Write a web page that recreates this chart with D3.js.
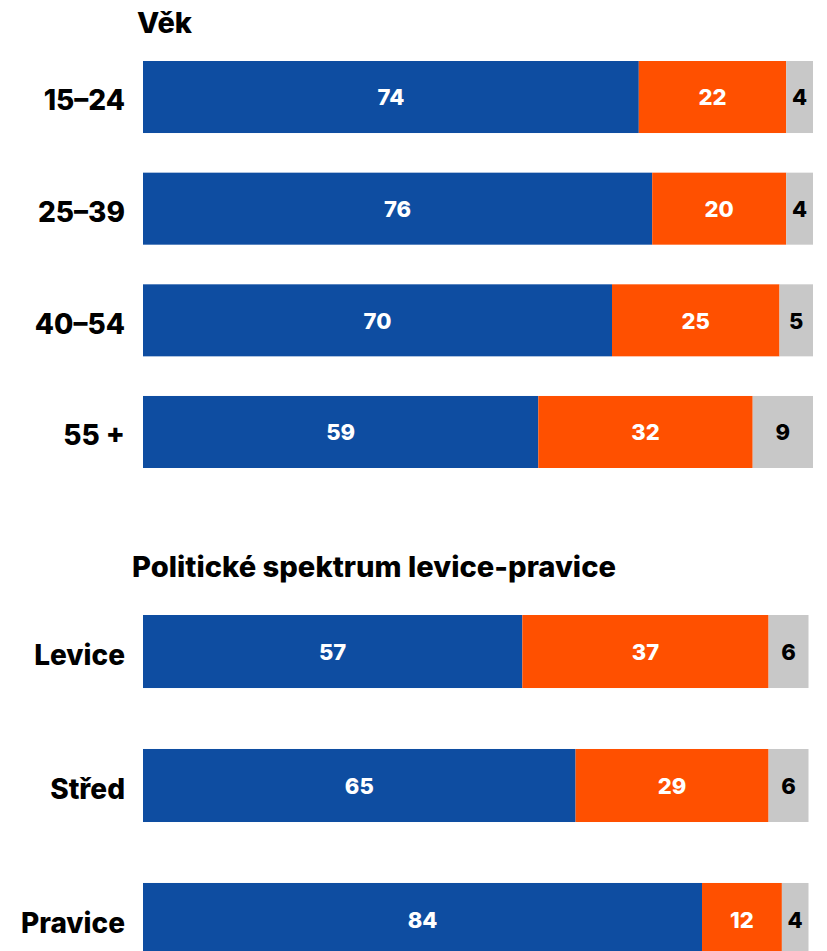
<!DOCTYPE html>
<html><head><meta charset="utf-8">
<script src="https://cdn.jsdelivr.net/npm/d3@7"></script>
<style>
html,body{margin:0;padding:0;background:#fff;}
svg{display:block;}
text{font-family:Inter, "Open Sans", sans-serif;}
</style></head>
<body>
<svg id="chart" width="827" height="951"></svg>
<script>
const ageTitle = "Věk";
const ageCategories = ["15–24", "25–39", "40–54", "55 +"];
const ageBlue = [74, 76, 70, 59];
const ageOrange = [22, 20, 25, 32];
const ageGray = [4, 4, 5, 9];

const polTitle = "Politické spektrum levice-pravice";
const polCategories = ["Levice", "Střed", "Pravice"];
const polBlue = [57, 65, 84];
const polOrange = [37, 29, 12];
const polGray = [6, 6, 4];

const colors = ["#0e4da1", "#ff5000", "#c8c8c8"];
const labelColors = ["#fff", "#fff", "#000"];
const FONT = "Inter, 'Open Sans', sans-serif";

const svg = d3.select("#chart");

function drawGroup(cfg) {
  const g = svg.append("g");
  const x = d3.scaleLinear().domain([0, 100]).range([cfg.x0, cfg.x1]);
  const y = d3.scaleBand().domain(cfg.categories).range([cfg.y0, cfg.y1])
    .paddingInner(cfg.pad).paddingOuter(0);
  const rows = cfg.categories.map((c, i) => ({cat: c, vals: [cfg.blue[i], cfg.orange[i], cfg.gray[i]]}));
  const stack = d3.stack().keys([0, 1, 2]).value((d, k) => d.vals[k]);
  const series = stack(rows);

  g.append("text").attr("x", cfg.titleX).attr("y", cfg.titleY)
    .attr("font-size", cfg.titleSize).attr("font-weight", 800).attr("fill", "#000")
    .attr("textLength", cfg.titleLen).attr("lengthAdjust", "spacingAndGlyphs")
    .text(cfg.title);

  series.forEach((s, k) => {
    const sg = g.append("g");
    sg.selectAll("rect").data(s).join("rect")
      .attr("x", d => x(d[0]))
      .attr("y", d => y(d.data.cat))
      .attr("width", d => x(d[1]) - x(d[0]))
      .attr("height", y.bandwidth())
      .attr("fill", colors[k]);
    sg.selectAll("text").data(s).join("text")
      .attr("x", d => (x(d[0]) + x(d[1])) / 2)
      .attr("y", d => y(d.data.cat) + y.bandwidth() / 2)
      .attr("dy", "0.38em")
      .attr("text-anchor", "middle")
      .attr("font-size", 22).attr("font-weight", 800)
      .attr("fill", labelColors[k])
      .text(d => d.data.vals[k]);
  });

  const axis = d3.axisLeft(y).tickSize(0).tickPadding(0);
  const ag = g.append("g").attr("transform", `translate(${cfg.labelX},0)`).call(axis);
  ag.select(".domain").remove();
  ag.selectAll("text").attr("font-size", 28).attr("font-weight", 800)
    .attr("fill", "#000").attr("font-family", FONT)
    .attr("dy", "0.48em").attr("x", 0);
}

drawGroup({title: ageTitle, titleX: 137, titleY: 33, titleSize: 28, titleLen: 55,
  categories: ageCategories, blue: ageBlue, orange: ageOrange, gray: ageGray,
  x0: 143, x1: 813, y0: 61, y1: 468, pad: 0.355, labelX: 125});

drawGroup({title: polTitle, titleX: 132, titleY: 577, titleSize: 28, titleLen: 484,
  categories: polCategories, blue: polBlue, orange: polOrange, gray: polGray,
  x0: 143, x1: 808.5, y0: 615, y1: 956, pad: 0.455, labelX: 125});
</script>
</body></html>
